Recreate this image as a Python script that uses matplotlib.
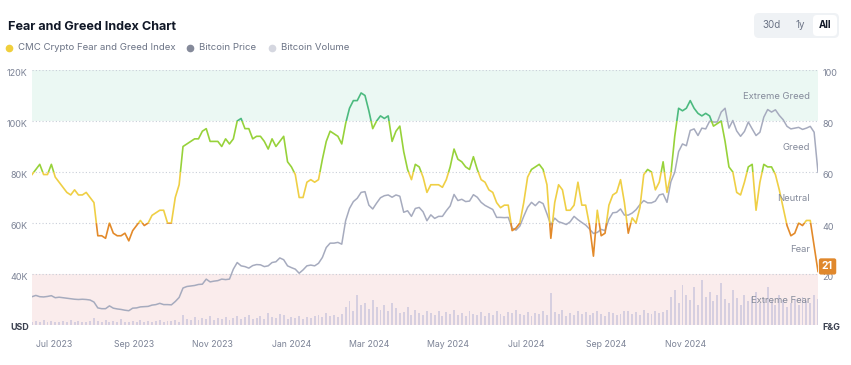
import matplotlib
matplotlib.use("Agg")
import matplotlib.pyplot as plt
import matplotlib.transforms as mtransforms
from matplotlib.patches import Rectangle, FancyBboxPatch
from matplotlib.lines import Line2D
import pandas as pd

plt.rcParams["font.family"] = ["Inter", "DejaVu Sans"]

# ---------------------------------------------------------------------------
# Data (one sample every 3 days)
# ---------------------------------------------------------------------------
START = "2023-06-14"
STEP = "3D"

fear_greed = [
    59, 61, 63, 59, 59, 63, 58, 56, 54, 52,
    51, 53, 51, 51, 52, 50, 48, 35, 35, 34,
    40, 36, 35, 35, 36, 33, 37, 39, 41, 39,
    40, 43, 44, 45, 45, 40, 40, 50, 55, 70,
    71, 72, 73, 73, 76, 77, 72, 72, 72, 70,
    73, 71, 73, 80, 81, 77, 77, 73, 74, 74,
    72, 69, 73, 70, 72, 74, 64, 62, 59, 50,
    50, 56, 57, 56, 57, 65, 72, 76, 75, 74,
    71, 79, 85, 88, 88, 91, 90, 84, 77, 80,
    82, 81, 82, 72, 76, 78, 68, 61, 57, 63,
    62, 58, 52, 55, 55, 55, 54, 57, 62, 69,
    65, 64, 62, 61, 66, 61, 57, 56, 53, 52,
    48, 46, 47, 47, 37, 38, 40, 48, 58, 61,
    62, 63, 61, 55, 34, 48, 55, 53, 45, 45,
    47, 56, 47, 47, 39, 27, 45, 35, 36, 47,
    51, 52, 57, 48, 36, 42, 40, 46, 59, 61,
    60, 53, 56, 64, 52, 59, 74, 85, 84, 85,
    88, 85, 83, 82, 83, 82, 78, 79, 80, 72,
    62, 60, 52, 51, 56, 62, 63, 45, 56, 63,
    62, 62, 59, 53, 46, 39, 35, 36, 40, 39,
    41, 41, 31, 21,
]

btc_price_k = [
    31.1, 31.6, 31.1, 31.0, 31.2, 31.5, 30.7, 30.9, 30.7, 30.5,
    30.3, 30.1, 30.0, 30.1, 30.0, 29.8, 29.0, 26.7, 26.4, 26.4,
    27.5, 26.6, 26.3, 26.1, 25.8, 25.6, 26.6, 26.7, 27.1, 27.2,
    27.3, 27.8, 28.0, 28.5, 28.0, 28.0, 27.9, 29.2, 30.8, 34.5,
    35.1, 35.3, 35.5, 35.9, 36.0, 38.0, 36.9, 37.2, 37.4, 38.0,
    37.8, 38.0, 41.9, 44.5, 43.2, 42.9, 42.3, 43.3, 43.7, 43.6,
    42.9, 43.2, 44.5, 44.8, 46.3, 45.6, 43.2, 42.5, 41.9, 40.3,
    41.6, 43.2, 43.5, 43.2, 44.2, 46.5, 50.4, 52.1, 52.1, 52.4,
    51.7, 60.9, 65.7, 68.4, 69.7, 72.0, 72.3, 67.0, 65.5, 67.8,
    69.9, 70.7, 71.0, 70.1, 71.0, 70.5, 64.2, 64.8, 62.6, 65.7,
    66.1, 64.4, 60.9, 63.2, 61.8, 62.6, 62.6, 64.8, 66.7, 71.2,
    68.8, 69.3, 68.4, 68.6, 71.1, 70.1, 68.1, 66.9, 66.1, 65.3,
    62.2, 62.2, 62.1, 62.2, 58.0, 57.2, 58.8, 62.6, 66.1, 68.1,
    66.8, 68.4, 67.6, 63.6, 59.2, 61.9, 60.5, 60.0, 59.4, 60.5,
    62.6, 61.3, 60.2, 59.2, 57.6, 55.9, 56.3, 57.5, 57.0, 61.5,
    64.0, 64.2, 65.5, 63.1, 63.1, 63.9, 65.2, 67.2, 68.8, 67.9,
    67.9, 68.6, 71.0, 71.4, 68.1, 76.2, 79.9, 88.0, 91.0, 90.3,
    96.3, 96.9, 94.3, 97.2, 96.9, 99.9, 99.6, 99.6, 103.5, 105.0,
    97.2, 100.2, 96.1, 94.0, 95.9, 99.6, 96.9, 94.3, 95.6, 101.5,
    104.5, 103.5, 104.4, 102.2, 100.5, 97.9, 96.9, 97.2, 97.5, 96.7,
    97.2, 97.9, 95.6, 79.9,
]

btc_volume_b = [
    3, 4, 3, 5, 3, 4, 3, 3, 4, 3, 5, 3, 4, 3, 3, 4,
    7,
    4, 3, 5, 3, 4, 3, 6, 3, 3, 4, 3, 5, 3, 4, 3, 4, 5, 3, 4, 4, 5, 3,
    10,
    6, 5, 8, 5, 7, 6, 9, 5, 7, 6, 8, 5,
    7, 9, 6, 8, 10, 6, 7, 9, 6, 12, 8, 7, 11, 10, 6, 8, 7, 9, 6, 8,
    7, 9, 10, 8, 12, 9, 10, 8, 11,
    18, 24, 14, 30, 20, 22, 16, 25, 18, 15, 20, 14, 22, 17, 12,
    13, 18, 10, 15, 12, 10, 14,
    12, 10, 14, 9, 13, 11, 15, 10, 12, 9, 14, 11, 10, 13, 9, 12, 10,
    14, 11, 9, 13, 12, 15, 11, 10, 13, 9, 12, 11, 14, 10, 32, 13, 11,
    15, 9, 12, 10, 14, 11, 13, 10, 12, 14, 11, 9, 13, 12, 10, 11, 14,
    14, 11, 13, 10, 15, 12, 11, 14, 12, 13, 15,
    28, 35, 22, 40, 30, 25, 38, 20, 45, 28, 33, 24, 30, 42, 26, 22,
    35, 27, 20, 30, 24, 28, 33, 22, 26, 38, 24, 20, 30, 25, 18, 22,
    26, 20, 28, 24, 22, 30, 26,
]

month_ticks = pd.date_range("2023-07-01", "2024-11-01", freq="2MS")
price_ticks = [40, 60, 80, 100, 120]
fg_ticks = [20, 40, 60, 80, 100]

zone_names = ["Extreme Fear", "Fear", "Neutral", "Greed", "Extreme Greed"]
zone_bounds = [(-10, 20), (20, 40), (40, 60), (60, 80), (80, 110)]
zone_colors = ["#E05A47", "#E38A2A", "#EFCF45", "#97D23A", "#4CBA7F"]

# ---------------------------------------------------------------------------
# Figure
# ---------------------------------------------------------------------------
W, H = 851, 365
fig = plt.figure(figsize=(W / 100, H / 100), dpi=100)
px = mtransforms.Affine2D().scale(1 / 100) + fig.dpi_scale_trans

dates = pd.date_range(START, periods=len(fear_greed), freq=STEP)
GREY = "#7C8396"

ax = fig.add_axes([32 / W, 40 / H, 786 / W, 255 / H])
ax.set_xlim(dates[0], dates[-1])
ax.set_ylim(0, 100)
ax.axhspan(80, 100, color="#EBF8F3", lw=0)
ax.axhspan(0, 20, color="#FAECEC", lw=0)
for v in fg_ticks:
    ax.axhline(v, color="#C9CED8", lw=0.8, ls=(0, (1, 2)))
ax.set_yticks([])
ax.set_xticks(month_ticks)
ax.set_xticklabels([d.strftime("%b %Y") for d in month_ticks])
ax.tick_params(axis="x", length=0, pad=11, labelsize=6.3, labelcolor=GREY)

# volume
axv = ax.twinx()
axv.bar(dates, btc_volume_b, width=1.5, color="#D6CFE0", lw=0)
axv.set_ylim(0, 255)
axv.set_yticks([])

# price
axp = ax.twinx()
axp.plot(dates, btc_price_k, color="#A6ABBE", lw=1.1)
axp.set_ylim(20, 120)
axp.yaxis.tick_left()
axp.set_yticks(price_ticks)
axp.set_yticklabels([f"{t}K" for t in price_ticks])
axp.tick_params(axis="y", length=0, pad=3, labelsize=6.5, labelcolor=GREY)

# fear & greed, coloured per zone
axf = ax.twinx()
axf.set_ylim(0, 100)
band_tr = mtransforms.blended_transform_factory(axf.transAxes, axf.transData)
for (lo, hi), c in zip(zone_bounds, zone_colors):
    line, = axf.plot(dates, fear_greed, color=c, lw=1.2, solid_joinstyle="round")
    clip = Rectangle((0, lo), 1, hi - lo, transform=band_tr)
    line.set_clip_path(clip)
axf.set_yticks(fg_ticks)
axf.tick_params(axis="y", length=0, pad=3, labelsize=6.5, labelcolor=GREY)

# tick labels sit a few pixels under their grid lines
shift = mtransforms.ScaledTranslation(0, -3 / 100, fig.dpi_scale_trans)
for lab in axp.get_yticklabels() + axf.get_yticklabels():
    lab.set_transform(lab.get_transform() + shift)

for a in (ax, axv, axp, axf):
    for s in a.spines.values():
        s.set_visible(False)

# zone names on the right
for name, (lo, hi) in zip(zone_names, zone_bounds):
    mid = (max(lo, 0) + min(hi, 100)) / 2 - 0.5
    axf.text(0.99, mid, name, transform=band_tr, ha="right", va="center",
             fontsize=6.8, color="#858B9B")

# last value badge
axf.annotate(str(fear_greed[-1]), xy=(dates[-1], fear_greed[-1]),
             xytext=(4, 5), textcoords="offset pixels", ha="left", va="center",
             fontsize=7.5, fontweight="bold", color="white", annotation_clip=False,
             bbox=dict(boxstyle="round,pad=0.3,rounding_size=0.2",
                       fc="#E0882C", ec="none"))

# axis unit captions
fig.text(10, H - 327, "USD", transform=px, fontsize=6.4, fontweight="bold",
         color="#3B4150", va="center", ha="left")
fig.text(822, H - 327, "F&G", transform=px, fontsize=6.4, fontweight="bold",
         color="#3B4150", va="center", ha="left")

# title + legend
fig.text(8, H - 30.5, "Fear and Greed Index Chart", transform=px,
         fontsize=9.1, fontweight="bold", color="#111827", va="baseline")
legend = [("CMC Crypto Fear and Greed Index", "#F0CF3C", 9),
          ("Bitcoin Price", "#858A9A", 190),
          ("Bitcoin Volume", "#D5D7E0", 272)]
for label, c, x0 in legend:
    fig.add_artist(Line2D([x0], [H - 48], marker="o", ms=4.5, color=c,
                          lw=0, transform=px))
    fig.text(x0 + 9, H - 48, label, transform=px, fontsize=6.9,
             color="#6B7385", va="center")

# period switch (top right)
fig.add_artist(FancyBboxPatch((754, H - 38), 85, 25, transform=px,
                              boxstyle="round,pad=0,rounding_size=5",
                              fc="#EFF2F5", ec="none"))
fig.add_artist(FancyBboxPatch((813, H - 36), 24, 21, transform=px,
                              boxstyle="round,pad=0,rounding_size=4",
                              fc="white", ec="none"))
for label, x0, bold in [("30d", 772, False), ("1y", 800, False), ("All", 825, True)]:
    fig.text(x0, H - 25.5, label, transform=px, ha="center", va="center",
             fontsize=7, fontweight="bold" if bold else "normal",
             color="#111827" if bold else "#6B7385")

fig.savefig("out.png", dpi=100)
